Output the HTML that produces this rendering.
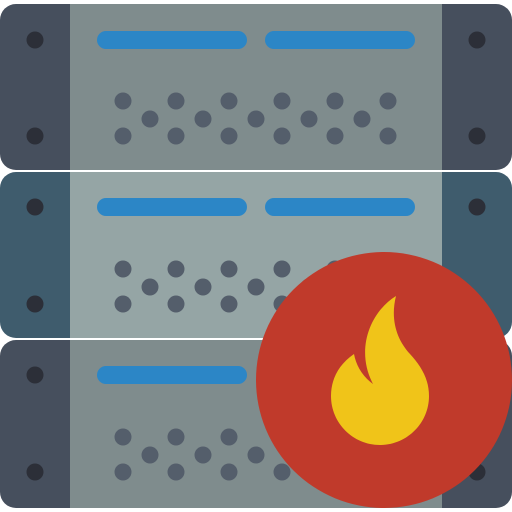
<!DOCTYPE html>
<html><head><style>html,body{margin:0;padding:0;background:#fff}svg{display:block}</style></head><body>
<svg width="512" height="512" viewBox="0 0 512 512" xmlns="http://www.w3.org/2000/svg">
<defs>
<g id="dots" fill="#545e6b">
<circle cx="123" cy="0" r="8.5"/><circle cx="176" cy="0" r="8.5"/><circle cx="229" cy="0" r="8.5"/><circle cx="282" cy="0" r="8.5"/><circle cx="335" cy="0" r="8.5"/><circle cx="388" cy="0" r="8.5"/>
<circle cx="150" cy="18" r="8.5"/><circle cx="203" cy="18" r="8.5"/><circle cx="256" cy="18" r="8.5"/><circle cx="309" cy="18" r="8.5"/><circle cx="362" cy="18" r="8.5"/>
<circle cx="123" cy="35" r="8.5"/><circle cx="176" cy="35" r="8.5"/><circle cx="229" cy="35" r="8.5"/><circle cx="282" cy="35" r="8.5"/><circle cx="335" cy="35" r="8.5"/><circle cx="388" cy="35" r="8.5"/>
</g>
</defs>
<!-- row 1 -->
<rect x="0" y="4" width="512" height="166" rx="16" fill="#464f5d"/>
<rect x="70" y="4" width="372" height="166" fill="#7f8c8d"/>
<rect x="97" y="31" width="150" height="18" rx="9" fill="#2c86c6"/>
<rect x="265" y="31" width="150" height="18" rx="9" fill="#2c86c6"/>
<use href="#dots" y="101"/>
<g fill="#2c2f38"><circle cx="35" cy="40" r="8.5"/><circle cx="35" cy="136" r="8.5"/><circle cx="477" cy="40" r="8.5"/><circle cx="477" cy="136" r="8.5"/></g>
<!-- row 2 -->
<rect x="0" y="172" width="512" height="166" rx="16" fill="#3f5c6d"/>
<rect x="70" y="172" width="372" height="166" fill="#95a5a5"/>
<rect x="97" y="198" width="150" height="18" rx="9" fill="#2c86c6"/>
<rect x="265" y="198" width="150" height="18" rx="9" fill="#2c86c6"/>
<use href="#dots" y="269"/>
<g fill="#2c2f38"><circle cx="35" cy="207" r="8.5"/><circle cx="35" cy="304" r="8.5"/><circle cx="477" cy="207" r="8.5"/></g>
<!-- row 3 -->
<rect x="0" y="340" width="512" height="168" rx="16" fill="#464f5d"/>
<rect x="70" y="340" width="372" height="168" fill="#7f8c8d"/>
<rect x="97" y="366" width="150" height="18" rx="9" fill="#2c86c6"/>
<use href="#dots" y="437"/>
<g fill="#2c2f38"><circle cx="35" cy="375" r="8.5"/><circle cx="35" cy="472" r="8.5"/><circle cx="477" cy="472" r="8.5"/></g>
<!-- badge -->
<circle cx="384" cy="380" r="128" fill="#c03a2b"/>
<path fill="#f0c419" d="M396,296 C370,312 355,350 373,384 C362,376 356,365 354,354 C338,365 331,380 331,396 C331,423 353,445 380,445 C407,445 429,423 429,396 C429,378 420,365 410,354 C397,340 390,320 396,296 Z"/>
</svg>
</body></html>
